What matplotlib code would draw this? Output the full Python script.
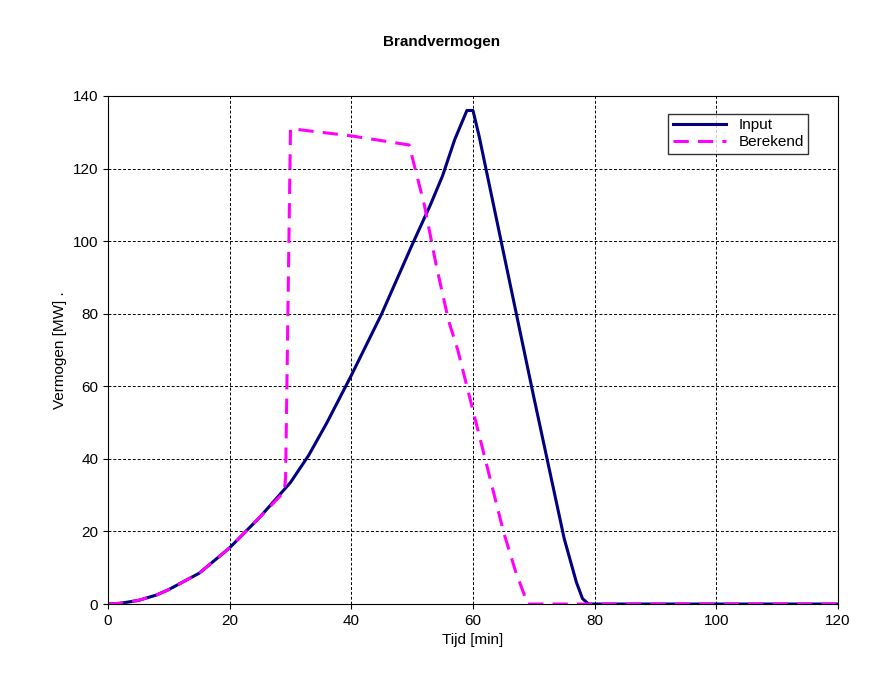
import matplotlib.pyplot as plt

plt.rcParams['font.family'] = ['Liberation Sans', 'DejaVu Sans']

# Input curve
t_in = [0, 2, 5, 8, 10, 15, 20, 25, 30, 33, 36, 40, 45, 50, 53, 55, 56, 57, 58, 59, 60, 61, 65, 70, 75, 77, 78, 79, 80, 120]
p_in = [0, 0.2, 1, 2.5, 4, 8.5, 15.5, 24, 33.5, 41, 50, 63, 80, 99, 110, 118, 123, 128, 132, 136, 136, 129, 97, 57, 18, 6, 1.5, 0, 0, 0]

# Berekend curve
t_ber = [0, 2, 5, 8, 10, 15, 20, 25, 29, 29.2, 30, 40, 49.5, 52, 54, 56, 57.5, 59, 62, 65, 67, 69, 120]
p_ber = [0, 0.2, 1, 2.5, 4, 8.5, 15.5, 24, 31, 35, 131, 129, 126.5, 110, 93, 78, 70, 60, 40, 20, 9, 0, 0]

fig = plt.figure(figsize=(8.83, 6.97), dpi=100)
ax = fig.add_axes([0.1223, 0.1334, 0.8267, 0.7289])

ax.plot(t_in, p_in, color='#000080', lw=2.2, label='Input')
ax.plot(t_ber, p_ber, color='#ff00ff', lw=2.2, ls=(0, (5, 3)), label='Berekend')

ax.set_xlim(0, 120)
ax.set_ylim(0, 140)
ax.set_xticks(range(0, 121, 20))
ax.set_yticks(range(0, 141, 20))
ax.grid(True, color='black', ls='--', lw=0.7, dashes=(3, 2))
ax.tick_params(labelsize=11)
ax.set_xlabel('Tijd [min]', fontsize=11)
ax.set_ylabel('Vermogen [MW] .', fontsize=11)
fig.suptitle('Brandvermogen', fontsize=11, fontweight='bold', y=0.95)
ax.legend(loc='upper right', bbox_to_anchor=(0.97, 0.98), fancybox=False,
          edgecolor='black', fontsize=11, handlelength=3.5, borderpad=0.3, labelspacing=0.2)
fig.savefig('out.png', dpi=100)
